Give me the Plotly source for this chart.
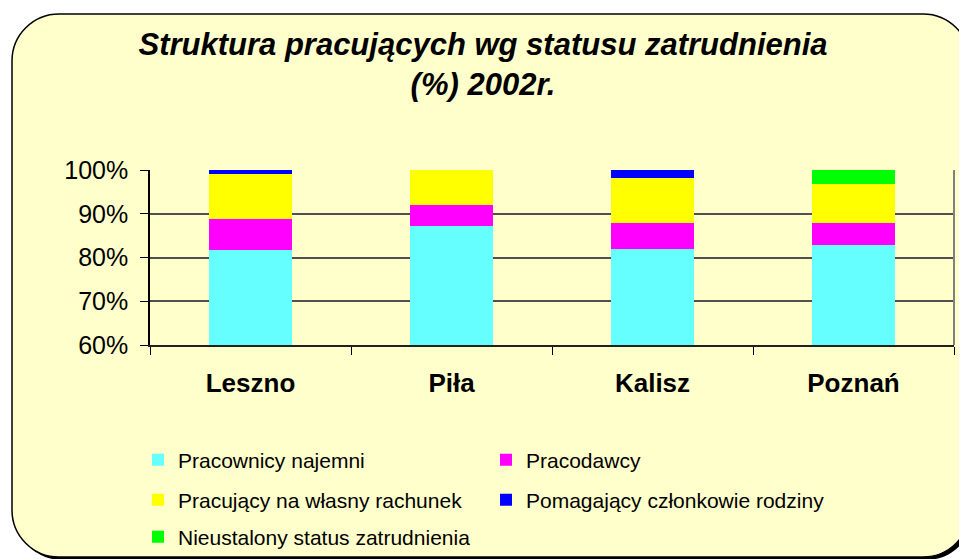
import plotly.graph_objects as go

cities = ['Leszno', 'Piła', 'Kalisz', 'Poznań']
najemni = [81.8, 87.1, 82.0, 82.9]
pracodawcy = [7.1, 5.0, 6.0, 5.1]
wlasny_rachunek = [10.1, 7.9, 10.1, 8.7]
pomagajacy = [1.0, 0.0, 1.9, 0.0]
nieustalony = [0.0, 0.0, 0.0, 3.3]

series = [
    ('Pracownicy najemni', najemni, '#66FFFF', 'legend'),
    ('Pracodawcy', pracodawcy, '#FF00FF', 'legend'),
    ('Pracujący na własny rachunek', wlasny_rachunek, '#FFFF00', 'legend2'),
    ('Pomagający członkowie rodziny', pomagajacy, '#0000FF', 'legend2'),
    ('Nieustalony status zatrudnienia', nieustalony, '#00FF00', 'legend3'),
]

font = 'Arial, Liberation Sans, sans-serif'
# page body has an 8px margin, so the figure is 8px smaller than the window
W, H = 959, 551

fig = go.Figure()
for name, vals, col, leg in series:
    fig.add_trace(go.Bar(x=cities, y=vals, name=name, marker_color=col,
                         marker_line_width=0, width=0.41, legend=leg))

# pixel -> paper helpers (plot area in figure pixels)
L, R, T, B = 142, 946, 162, 337
px = lambda v: (v - L) / (R - L)
py = lambda v: (B - v) / (B - T)


def rounded(x0, y0, x1, y1, r):
    k = r * 0.4477  # distance of control point from corner (circle approx)
    return (f"M {px(x0 + r)},{py(y0)} L {px(x1 - r)},{py(y0)} "
            f"C {px(x1 - k)},{py(y0)} {px(x1)},{py(y0 + k)} {px(x1)},{py(y0 + r)} "
            f"L {px(x1)},{py(y1 - r)} "
            f"C {px(x1)},{py(y1 - k)} {px(x1 - k)},{py(y1)} {px(x1 - r)},{py(y1)} "
            f"L {px(x0 + r)},{py(y1)} "
            f"C {px(x0 + k)},{py(y1)} {px(x0)},{py(y1 - k)} {px(x0)},{py(y1 - r)} "
            f"L {px(x0)},{py(y0 + r)} "
            f"C {px(x0)},{py(y0 + k)} {px(x0 + k)},{py(y0)} {px(x0 + r)},{py(y0)} Z")


shapes = [
    # shadow
    dict(type='path', xref='paper', yref='paper', layer='below',
         path=rounded(7, 9, 965, 552, 47), fillcolor='black', line_width=0),
    # card
    dict(type='path', xref='paper', yref='paper', layer='below',
         path=rounded(4, 6, 962, 549, 47), fillcolor='#FFFFCC',
         line=dict(color='black', width=1.5)),
    # right frame
    dict(type='line', xref='paper', yref='paper', x0=1, x1=1, y0=0, y1=1,
         line=dict(color='#808080', width=2)),
]


def leg(yc):
    return dict(orientation='h', xref='container', yref='container',
                x=130 / W, y=1 - yc / H, xanchor='left', yanchor='middle',
                entrywidth=303, entrywidthmode='pixels',
                font=dict(size=21, family=font), bgcolor='rgba(0,0,0,0)',
                traceorder='normal')


fig.update_layout(
    barmode='stack',
    width=W, height=H,
    margin=dict(l=L, r=W - R, t=T, b=H - B, autoexpand=False),
    paper_bgcolor='white',
    plot_bgcolor='rgba(0,0,0,0)',
    font=dict(family=font, color='black'),
    title=dict(text='<b><i>Struktura pracujących wg statusu zatrudnienia<br>(%) 2002r.</i></b>',
               x=(483 - 8) / W, xref='container', xanchor='center',
               y=1 - 47 / H, yref='container', yanchor='top',
               font=dict(size=31, family=font)),
    shapes=shapes,
    showlegend=True,
    legend=leg(452),
    legend2=leg(492),
    legend3=leg(529),
)

fig.update_yaxes(range=[60, 100], dtick=10, ticksuffix='%', showgrid=True,
                 gridcolor='#505050', gridwidth=1.5, showline=True, linecolor='black',
                 linewidth=1.5, ticks='outside', ticklen=8, tickcolor='black',
                 tickfont=dict(size=25, family=font), zeroline=False,
                 ticklabelstandoff=7)
fig.update_xaxes(showline=True, linecolor='#202020', linewidth=2, ticks='outside',
                 tickson='boundaries', ticklen=8, tickcolor='black',
                 tickfont=dict(size=26, family=font), ticklabelstandoff=14)
fig.update_xaxes(ticktext=[f'<b>{c}</b>' for c in cities], tickvals=cities)

fig.write_html("out.html")
